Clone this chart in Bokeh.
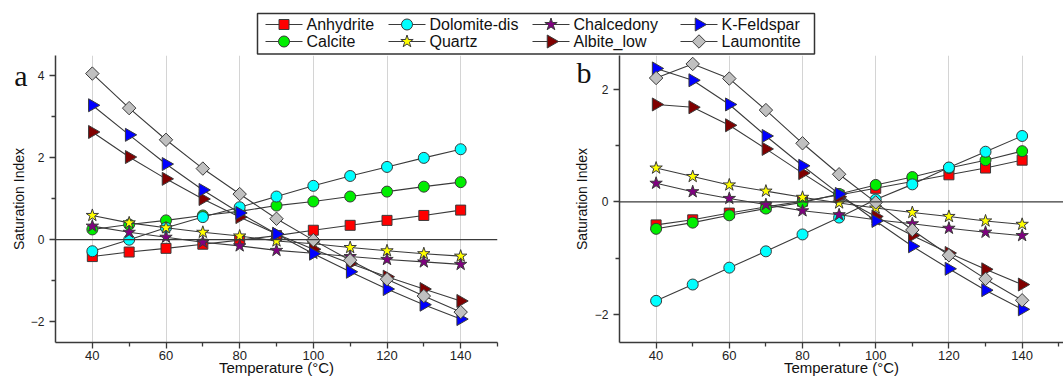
import numpy as np
from bokeh.plotting import figure
from bokeh.layouts import column, row
from bokeh.models import Range1d, FixedTicker, Span, LinearAxis
from bokeh.core.properties import value
from bokeh.embed import file_html
from bokeh.resources import INLINE

temperature = [40, 50, 60, 70, 80, 90, 100, 110, 120, 130, 140]
x_ticks = [40, 60, 80, 100, 120, 140]
x_minor = [50, 70, 90, 110, 130, 150]

names = ["Anhydrite", "Calcite", "Dolomite-dis", "Quartz", "Chalcedony", "Albite_low", "K-Feldspar", "Laumontite"]

# panel a
anh_a = [-0.41, -0.30, -0.21, -0.11, -0.01, 0.10, 0.23, 0.35, 0.47, 0.59, 0.72]
cal_a = [0.25, 0.37, 0.47, 0.59, 0.69, 0.83, 0.93, 1.05, 1.17, 1.29, 1.40]
dol_a = [-0.28, 0.00, 0.29, 0.55, 0.79, 1.05, 1.31, 1.55, 1.77, 1.99, 2.20]
qtz_a = [0.59, 0.41, 0.29, 0.18, 0.09, -0.03, -0.10, -0.19, -0.27, -0.34, -0.40]
chal_a = [0.33, 0.18, 0.06, -0.06, -0.15, -0.26, -0.33, -0.41, -0.48, -0.54, -0.60]
alb_a = [2.62, 2.01, 1.48, 0.99, 0.55, 0.14, -0.23, -0.58, -0.90, -1.20, -1.49]
kfs_a = [3.27, 2.55, 1.84, 1.21, 0.65, 0.14, -0.34, -0.78, -1.20, -1.58, -1.93]
lau_a = [4.04, 3.20, 2.43, 1.73, 1.11, 0.51, -0.01, -0.50, -0.96, -1.37, -1.76]

# panel b
anh_b = [-0.41, -0.32, -0.20, -0.09, 0.01, 0.12, 0.24, 0.36, 0.48, 0.60, 0.74]
cal_b = [-0.48, -0.37, -0.24, -0.12, -0.01, 0.14, 0.30, 0.44, 0.60, 0.74, 0.90]
dol_b = [-1.76, -1.47, -1.17, -0.88, -0.58, -0.28, 0.04, 0.31, 0.61, 0.89, 1.17]
qtz_b = [0.60, 0.45, 0.30, 0.19, 0.08, -0.02, -0.11, -0.19, -0.26, -0.34, -0.40]
chal_b = [0.33, 0.18, 0.06, -0.05, -0.16, -0.23, -0.32, -0.39, -0.47, -0.54, -0.60]
alb_b = [1.73, 1.68, 1.36, 0.94, 0.51, 0.09, -0.26, -0.60, -0.91, -1.20, -1.47]
kfs_b = [2.37, 2.16, 1.73, 1.17, 0.64, 0.14, -0.34, -0.79, -1.19, -1.57, -1.91]
lau_b = [2.20, 2.45, 2.19, 1.63, 1.04, 0.49, -0.01, -0.50, -0.95, -1.37, -1.75]

data_a = [anh_a, cal_a, dol_a, qtz_a, chal_a, alb_a, kfs_a, lau_a]
data_b = [anh_b, cal_b, dol_b, qtz_b, chal_b, alb_b, kfs_b, lau_b]

styles = {
    "Anhydrite": dict(marker="square", fill_color="#ff0000", size=10, angle=0.0),
    "Calcite": dict(marker="circle", fill_color="#00ee00", size=11, angle=0.0),
    "Dolomite-dis": dict(marker="circle", fill_color="#00ffff", size=11, angle=0.0),
    "Quartz": dict(marker="star", fill_color="#ffff00", size=13, angle=0.0),
    "Chalcedony": dict(marker="star", fill_color="#800080", size=13, angle=0.0),
    "Albite_low": dict(marker="triangle", fill_color="#800000", size=13, angle=-np.pi / 2),
    "K-Feldspar": dict(marker="triangle", fill_color="#0000ff", size=13, angle=-np.pi / 2),
    "Laumontite": dict(marker="square", fill_color="#c0c0c0", size=9.5, angle=np.pi / 4),
}
LINE = "#3a3a3a"
FONT = "Liberation Sans"
PANEL_H = 323


def make_panel(series, width, y0, y1, yticks, yminor, border_left, border_right, xmax, letter, letter_y):
    p = figure(width=width, height=PANEL_H, output_backend="svg", toolbar_location=None,
               x_range=Range1d(30, xmax), y_range=Range1d(y0, y1),
               min_border_left=border_left, min_border_right=border_right,
               min_border_top=0, min_border_bottom=35)
    p.outline_line_color = None
    p.background_fill_color = "white"
    p.ygrid.grid_line_color = None
    p.xgrid.grid_line_color = "#d4d4d4"
    p.xgrid.grid_line_width = 1
    p.xaxis.ticker = FixedTicker(ticks=x_ticks, minor_ticks=x_minor)
    p.yaxis.ticker = FixedTicker(ticks=yticks, minor_ticks=yminor)
    p.xgrid.ticker = FixedTicker(ticks=x_ticks)
    for ax in (p.xaxis[0], p.yaxis[0]):
        ax.axis_line_color = LINE
        ax.axis_line_width = 1.5
        ax.major_tick_line_color = LINE
        ax.minor_tick_line_color = LINE
        ax.major_tick_line_width = 1.3
        ax.minor_tick_line_width = 1.3
        ax.major_tick_in = 0
        ax.major_tick_out = 6
        ax.minor_tick_in = 0
        ax.minor_tick_out = 4
        ax.major_label_text_font = FONT
        ax.major_label_text_color = "#222222"
        ax.axis_label_text_font = FONT
        ax.axis_label_text_font_style = "normal"
        ax.axis_label_text_color = "#111111"
    p.xaxis.major_label_text_font_size = "13px"
    p.xaxis.major_label_standoff = 2
    p.xaxis.axis_label = "Temperature (\u00b0C)"
    p.xaxis.axis_label_text_font_size = "15px"
    p.xaxis.axis_label_standoff = -4
    p.yaxis.major_label_text_font_size = "12px"
    p.yaxis.major_label_standoff = 5

    # outer left axis: carries the panel letter and the axis title
    outer = LinearAxis(ticker=FixedTicker(ticks=[letter_y], minor_ticks=[]),
                       major_label_overrides={letter_y: letter},
                       axis_line_color=None, major_tick_line_color=None, minor_tick_line_color=None,
                       major_tick_in=0, major_tick_out=0, major_label_standoff=0,
                       major_label_orientation="horizontal",
                       major_label_text_font="Liberation Serif", major_label_text_font_size="30px",
                       major_label_text_color="#111111",
                       axis_label="Saturation Index", axis_label_text_font=FONT,
                       axis_label_text_font_size="14px", axis_label_text_font_style="normal",
                       axis_label_text_color="#111111", axis_label_standoff=-16)
    p.add_layout(outer, "left")

    p.add_layout(Span(location=0, dimension="width", line_color=LINE, line_width=1.3))

    for name, ys in zip(names, series):
        st = styles[name]
        p.line(temperature, ys, line_color=LINE, line_width=1.1)
        p.scatter(temperature, ys, marker=st["marker"], size=st["size"], angle=st["angle"],
                  fill_color=st["fill_color"], line_color="#3a3a3a", line_width=1)
    return p


pa = make_panel(data_a, 540, -2.5, 4.48, [-2, 0, 2, 4], [-1, 1, 3], 55, 43, 150, "a", 4.0)
pb = make_panel(data_b, 523, -2.5, 2.6, [-2, 0, 2], [-1, 1], 79, 0, 151.3, "b", 2.3)

# legend strip, drawn in its own pixel-like coordinate space
legend_order = ["Anhydrite", "Dolomite-dis", "Chalcedony", "K-Feldspar",
                "Calcite", "Quartz", "Albite_low", "Laumontite"]
legend_cols = [265, 388, 532, 680]
legend_rows = [24, 41]
legend_box = dict(left=257, right=814, top=13, bottom=53.5)
glyph_len = 37

leg = figure(width=1063, height=55, output_backend="svg", toolbar_location=None,
             x_range=Range1d(0, 1063), y_range=Range1d(55, 0), min_border=0)
leg.outline_line_color = None
leg.axis.visible = False
leg.grid.visible = False
leg.quad(left=[legend_box["left"]], right=[legend_box["right"]], top=[legend_box["top"]],
         bottom=[legend_box["bottom"]], fill_color="white", line_color="#333333", line_width=1.5)
for i, name in enumerate(legend_order):
    st = styles[name]
    x0 = legend_cols[i % 4]
    y0 = legend_rows[i // 4]
    leg.line([x0, x0 + glyph_len], [y0, y0], line_color=LINE, line_width=1.1)
    leg.scatter([x0 + glyph_len / 2], [y0], marker=st["marker"], size=st["size"], angle=st["angle"],
                fill_color=st["fill_color"], line_color="#3a3a3a", line_width=1)
    leg.text([x0 + glyph_len + 4], [y0], text=[name], text_font=value(FONT), text_font_size="16px",
             text_baseline="middle", text_align="left", text_color="#111111")

layout = column(leg, row(pa, pb))
open("out.html", "w").write(file_html(layout, INLINE))
